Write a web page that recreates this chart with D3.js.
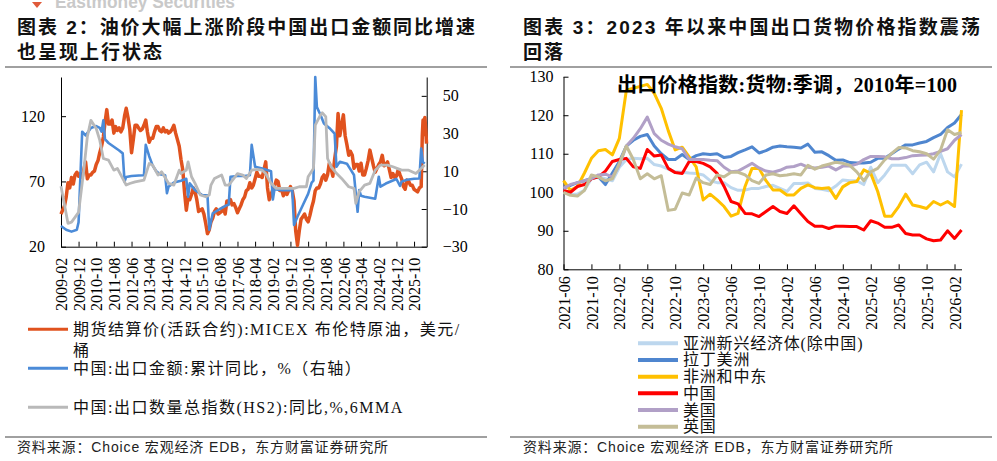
<!DOCTYPE html>
<html><head><meta charset="utf-8">
<script src="https://cdn.jsdelivr.net/npm/d3@7"></script>
<style>body{margin:0;background:#fff}svg{display:block}</style>
</head><body><svg id="c" width="997" height="461"></svg>
<script>
// ---------------- LEFT CHART DATA ----------------
const leftTickLabels = ["2009-02","2009-12","2010-10","2011-08","2012-06","2013-04","2014-02","2014-12","2015-10","2016-08","2017-06","2018-04","2019-02","2019-12","2020-10","2021-08","2022-06","2023-04","2024-02","2024-12","2025-10"];
const leftYTicks = [20,70,120];
const rightYTicks = [-30,-10,10,30,50];
// Brent (monthly, from 2009-02 to 2026-01)
const oilStart = "2009-02";
const oilValues = [
45,48,51,58,69,65,73,68,75,77,74,
76,73,79,85,72,75,75,77,78,83,86,92,
97,104,115,125,114,114,117,107,112,109,111,108,
111,120,126,119,110,92,102,113,113,111,109,110,
113,117,108,100,103,103,108,112,112,109,108,111,
108,109,107,108,110,113,107,102,97,87,79,62,
48,58,56,60,65,62,56,47,48,49,45,38,
30,33,39,42,47,49,45,46,47,50,45,55,
55,56,52,53,50,46,49,52,56,58,63,64,
69,65,67,72,77,74,74,73,79,85,65,56,
60,64,66,71,70,63,64,59,63,60,63,66,
63,55,32,21,32,41,43,45,41,39,44,50,
55,63,65,65,68,73,75,71,75,84,80,74,
87,97,122,105,113,121,105,98,90,93,90,80,
83,83,78,84,75,75,80,86,94,88,82,77,
80,83,85,90,82,83,85,79,73,76,73,74,
79,75,72,66,64,71,70,67,67,64,63,62,
65];
const oilTailDates = ["2026-02-01","2026-02-20","2026-03-05","2026-03-20","2026-04-05","2026-04-20","2026-05-04"];
const oilTailValues = [66,105,117,106,119,110,99];
// China export value, cumulative YoY (%)
const expDates = ["2009-02","2009-05","2009-08","2009-11","2009-12","2010-02","2010-04","2010-07","2010-10","2010-12","2011-01","2011-02","2011-03","2011-05","2011-08","2011-11","2012-01","2012-02","2012-03","2012-06","2012-10","2013-01","2013-02","2013-04","2013-06","2013-08","2013-10","2014-01","2014-02","2014-03","2014-06","2014-10","2015-01","2015-02","2015-03","2015-06","2015-10","2016-01","2016-02","2016-04","2016-08","2016-12","2017-01","2017-02","2017-06","2017-10","2018-01","2018-02","2018-04","2018-08","2019-01","2019-02","2019-03","2019-07","2020-01","2020-02","2020-04","2020-07","2020-10","2020-12","2021-01","2021-02","2021-03","2021-05","2021-07","2021-10","2022-01","2022-02","2022-04","2022-08","2022-10","2022-12","2023-02","2023-03","2023-04","2023-06","2023-12","2024-02","2024-03","2024-06","2024-12","2025-02","2025-03","2025-06","2025-10","2026-01","2026-02","2026-03","2026-04"];
const expValues = [-19,-21,-22,-21,-17,31,29,33,34,33,31,37,27,25,23,21,19.5,4.5,7,7.5,7.8,7.9,24,18,13,10,8.5,7.9,-1.6,1.8,4,5,6,-3.5,3.6,0,-2.6,-2.8,-21,-12.3,-10,-8,-7.7,7.1,7.5,7.5,7.9,24,12.4,11.5,10,-5,0.5,0,0,-18.5,-14,-8,-2,4,5,60,44,40,35.4,33,30,12.4,15,14,11,8,-11.5,0,-3,-3.5,-4.6,7.1,1.8,3.5,5.9,2.3,4.5,5.5,6,6.2,22,15,14];
// China export volume index (HS2) YoY, 6MMA (%)
const volDates = ["2009-02","2009-06","2009-08","2009-12","2010-03","2010-05","2010-07","2010-10","2010-12","2011-02","2011-05","2011-08","2011-10","2011-12","2012-03","2012-05","2012-08","2013-01","2013-04","2013-06","2013-09","2013-11","2014-03","2014-06","2014-09","2014-10","2015-01","2015-02","2015-04","2015-06","2015-09","2015-12","2016-02","2016-03","2016-05","2016-07","2016-09","2016-11","2017-01","2017-04","2017-06","2017-09","2017-11","2018-02","2018-05","2018-08","2018-10","2019-01","2019-04","2019-09","2020-02","2020-05","2020-09","2020-10","2021-01","2021-02","2021-05","2021-06","2021-08","2021-09","2021-11","2022-02","2022-05","2022-09","2022-12","2023-01","2023-03","2023-06","2023-09","2023-12","2024-03","2024-07","2024-10","2025-03","2025-07","2025-11","2026-01","2026-04"];
const volValues = [2,-17.6,-17,-11.8,10.6,28.3,37,32.7,26.5,16.8,15.9,10.6,11.5,8,2.7,3.5,4.4,5.3,14.1,13.2,8,9.7,3.6,2.7,10.6,8.8,10.6,15,7.1,3.6,-2.6,-3.5,-2.6,2.7,6.2,7.1,8,2.7,2.7,6.2,8.8,8,6.2,10.6,11,10.6,8.8,3.6,0.9,0.9,0.9,1.8,1.8,7.1,11.5,34.5,39.8,41,39,16.8,12.4,8.9,6.2,1.8,0.9,-7,-0.8,2.7,3.6,10.6,13.3,13.3,12.4,10.6,10.6,8.8,10.6,13.3];
const leftLegend = ["期货结算价(活跃合约):MICEX 布伦特原油，美元/","中国:出口金额:累计同比，%（右轴）","中国:出口数量总指数(HS2):同比,%,6MMA"];

// ---------------- RIGHT CHART DATA ----------------
const months = ["2021-06","2021-07","2021-08","2021-09","2021-10","2021-11","2021-12","2022-01","2022-02","2022-03","2022-04","2022-05","2022-06","2022-07","2022-08","2022-09","2022-10","2022-11","2022-12","2023-01","2023-02","2023-03","2023-04","2023-05","2023-06","2023-07","2023-08","2023-09","2023-10","2023-11","2023-12","2024-01","2024-02","2024-03","2024-04","2024-05","2024-06","2024-07","2024-08","2024-09","2024-10","2024-11","2024-12","2025-01","2025-02","2025-03","2025-04","2025-05","2025-06","2025-07","2025-08","2025-09","2025-10","2025-11","2025-12","2026-01","2026-02","2026-03"];
const asia = [100,99.5,99.5,100.5,103.5,104,103.5,103,106.5,108.5,108.8,108.7,108.8,107.2,106.8,106,105.3,105.2,105,104.9,104.5,103,102.5,102.5,101.2,100.5,100.6,101,101,101.5,101.8,101,100.2,102.3,102.3,102.4,101,100.8,100.4,101.6,103.2,103,103,102,106.5,102.5,104.5,107,107,107,104.8,107.1,107.8,105.3,110,105.3,104,107.3];
const latam = [101,101.8,102.5,103,103.6,104,102,105,108,112,113.5,114.5,115,112,110,108.5,108.5,109.8,108.5,109.5,110,109.8,110,109,109.3,110.3,111,111.8,110.2,110.8,111.7,112,111.8,111.7,111.5,112.5,110.4,110.5,109.5,108.3,108.4,107.7,107.6,107.6,107.8,108.8,108.8,110,111.2,112.3,112.3,112.8,113.2,114.2,115,116.8,118,120.2];
const afme = [103,100.5,101.5,105,108.8,110.8,111.1,109.7,114,126.5,127,127.5,128,125.7,121.8,116,111,111.7,109.2,106.6,98,99.5,98,96.3,93.8,94.5,101.5,106.2,106.2,103,100.6,100.6,99.3,99.3,101,101.9,101.2,101,101.2,98.4,101.4,102.5,102.8,105.8,104.9,100.2,93.8,93.8,96.3,99.5,96.7,96.3,95.8,97.6,96.7,97.6,96.3,121.3];
const china = [100.5,100,101.5,102,103.5,104,105.5,108,108.5,108.8,106.6,106.2,111.1,109.4,109.7,106.2,105.1,104.9,108,108,107.5,106.6,104.9,101.5,97.6,97,94.5,94.4,93.7,95,96.3,95,94.5,96.5,94.4,92.4,91.2,91.2,90.6,91.2,91.2,91.1,91.1,90.2,92.6,92,90.9,90.9,91.5,89.3,88.9,88.9,87.9,87.4,87.6,90,88,90.2];
const usa = [101,102,102.5,103,103.5,104.5,104.7,104,107,112,114,116.5,119.5,115.2,113.5,112.5,111.8,111.3,108.5,108.5,108.5,108.3,108.2,106.5,105.3,105.5,106.5,107.5,106.3,105.5,105.2,105.7,106.5,106.7,107.3,106.5,106.3,106.5,106.8,105.8,106.8,106.8,107.3,108.5,109.3,109.3,109.2,108.7,108.7,109,109.5,109.6,109.7,110,110.6,111.3,113.5,115];
const uk = [100,99.2,99,100.5,104.5,104,103,103.5,107.5,112,108.5,103.5,104.8,103.5,104.3,95.3,95.6,99.8,99.3,103.7,102.5,102,104.5,104,105.2,105.2,104.5,103,102.3,104.5,104.8,104.3,104.5,104.8,104.5,107,106,106.8,107.3,107.8,107.5,107,105.3,103,105.3,106.2,108.4,110.1,111.6,111.5,110.8,110.5,110,108.6,111,116.2,115,115.5];
const rightSeries = [
  {name:"亚洲新兴经济体(除中国)", values:asia,  color:"#BDD7EE"},
  {name:"拉丁美洲",               values:latam, color:"#4F86CF"},
  {name:"非洲和中东",             values:afme,  color:"#FFC000"},
  {name:"中国",                   values:china, color:"#FF0000"},
  {name:"美国",                   values:usa,   color:"#B1A0C7"},
  {name:"英国",                   values:uk,    color:"#C4BD97"}
];
const rightYTicksR = [80,90,100,110,120,130];

// ---------------- DRAW ----------------
const svg = d3.select("#c");
svg.append("rect").attr("width",997).attr("height",461).attr("fill","#fff");
const SERIF = "'Liberation Serif','Noto Sans CJK SC',serif";
const SANS = "'Liberation Sans','Noto Sans CJK SC',sans-serif";
const pm = d3.timeParse("%Y-%m"), pd = d3.timeParse("%Y-%m-%d");

// watermark (cut off at top edge, as in the reference)
svg.append("path").attr("d","M32,2 L42,2 L37,8 Z").attr("fill","#e05a3a");
svg.append("text").attr("x",55).attr("y",8).attr("font-family",SANS).attr("font-weight","bold")
  .attr("font-size",19).attr("fill","#c9c9c9").attr("textLength",180).attr("lengthAdjust","spacingAndGlyphs").text("Eastmoney Securities");

// titles
function title(x,y,t,len){
  const s = svg.append("text").attr("x",x).attr("y",y).attr("font-family",SANS).attr("font-weight","bold")
    .attr("font-size",19).attr("fill","#111").text(t);
  if(len) s.attr("textLength",len).attr("lengthAdjust","spacing"); else s.attr("letter-spacing",2);
}
title(17,34,"图表 2：油价大幅上涨阶段中国出口金额同比增速",458);
title(17,59,"也呈现上行状态");
title(523,34,"图表 3：2023 年以来中国出口货物价格指数震荡",457);
title(523,59,"回落");

// separators
[[5,487],[510,992]].forEach(([a,b])=>{
  [67,437].forEach(y=>svg.append("line").attr("x1",a).attr("x2",b).attr("y1",y).attr("y2",y)
    .attr("stroke","#808080").attr("stroke-width",1.5));
});
// sources
[[17,371],[523,370]].forEach(([x,l])=>svg.append("text").attr("x",x).attr("y",452).attr("font-family",SANS)
  .attr("font-size",14).attr("fill","#222").attr("textLength",l).attr("lengthAdjust","spacing")
  .text("资料来源：Choice 宏观经济 EDB，东方财富证券研究所"));

// ---------- left chart ----------
const xL = d3.scaleTime().domain([pm("2009-02"), pd("2026-05-07")]).range([61,426.7]);
const yL = d3.scaleLinear().domain([20,150]).range([246.7,77]);
const yR = d3.scaleLinear().domain([-30,60]).range([246.7,77]);
const gL = svg.append("g");
function styleAxis(g){
  g.selectAll("path.domain").attr("stroke","#000").attr("stroke-width",1);
  g.selectAll(".tick line").attr("stroke","#000");
  g.selectAll("text").attr("font-family",SERIF).attr("font-size",16).attr("fill","#000");
}
const axL = gL.append("g").attr("transform","translate(61,0)")
  .call(d3.axisLeft(yL).tickValues(leftYTicks).tickSize(-5).tickSizeOuter(0).tickPadding(16));
styleAxis(axL);
const axR = gL.append("g").attr("transform","translate(426.7,0)")
  .call(d3.axisRight(yR).tickValues(rightYTicks).tickSize(-5).tickSizeOuter(0).tickPadding(16));
styleAxis(axR);
const axB = gL.append("g").attr("transform","translate(0,246.7)")
  .call(d3.axisBottom(xL).tickValues(leftTickLabels.map(pm)).tickFormat(d3.timeFormat("%Y-%m")).tickSize(-5).tickSizeOuter(0));
styleAxis(axB);
axB.selectAll("text").attr("transform","rotate(-90)").attr("text-anchor","end").attr("x",-11).attr("y",0).attr("dy","0.35em");

const oilData = oilValues.map((v,i)=>[d3.timeMonth.offset(pm(oilStart),i),v])
  .concat(oilTailDates.map((d,i)=>[pd(d),oilTailValues[i]]));
const expData = expDates.map((d,i)=>[pm(d),expValues[i]]);
const volData = volDates.map((d,i)=>[pm(d),volValues[i]]);
const lineL = d3.line().x(d=>xL(d[0])).y(d=>yL(d[1]));
const lineR = d3.line().x(d=>xL(d[0])).y(d=>yR(d[1]));
gL.append("path").attr("d",lineL(oilData)).attr("fill","none").attr("stroke","#E0521E").attr("stroke-width",3.5).attr("stroke-linejoin","round");
gL.append("path").attr("d",lineR(expData)).attr("fill","none").attr("stroke","#4B8BD8").attr("stroke-width",2.6).attr("stroke-linejoin","round");
gL.append("path").attr("d",lineR(volData)).attr("fill","none").attr("stroke","#B9B9B9").attr("stroke-width",2.8).attr("stroke-linejoin","round");

// left legend
const legL = [{y:329.3,c:"#E0521E"},{y:368.3,c:"#4B8BD8"},{y:407.3,c:"#B9B9B9"}];
legL.forEach((d,i)=>{
  svg.append("line").attr("x1",28).attr("x2",68).attr("y1",d.y).attr("y2",d.y).attr("stroke",d.c).attr("stroke-width",3);
  svg.append("text").attr("x",73).attr("y",d.y+5.5).attr("font-family",SERIF).attr("font-size",16)
    .attr("letter-spacing",1.5).attr("fill","#111").text(leftLegend[i]);
});
svg.append("text").attr("x",73).attr("y",356).attr("font-family",SERIF).attr("font-size",16).attr("fill","#111").text("桶");

// ---------- right chart ----------
const xP = d3.scalePoint().domain(months).range([563.5,961.5]);
const yP = d3.scaleLinear().domain([80,130]).range([269.3,76.7]);
const gR = svg.append("g");
const axPL = gR.append("g").attr("transform","translate(563.5,0)")
  .call(d3.axisLeft(yP).tickValues(rightYTicksR).tickSize(-5).tickSizeOuter(0).tickPadding(10));
styleAxis(axPL);
const axPB = gR.append("g").attr("transform","translate(0,269.3)")
  .call(d3.axisBottom(xP).tickValues(months.filter((m,i)=>i%4===0)).tickSize(-5).tickSizeOuter(0));
styleAxis(axPB);
axPB.selectAll("text").attr("transform","rotate(-90)").attr("text-anchor","end").attr("x",-7).attr("y",0).attr("dy","0.35em");

const lineP = d3.line().x((d,i)=>xP(months[i])).y(d=>yP(d));
rightSeries.forEach(s=>{
  gR.append("path").attr("d",lineP(s.values)).attr("fill","none").attr("stroke",s.color).attr("stroke-width",3).attr("stroke-linejoin","round");
});
svg.append("text").attr("x",617).attr("y",92).attr("font-family",SERIF).attr("font-weight","bold").attr("font-size",20)
  .attr("fill","#000").attr("textLength",340).attr("lengthAdjust","spacing").text("出口价格指数:货物:季调，2010年=100");

// right legend
rightSeries.forEach((s,i)=>{
  const y = 343.3 + i*16.68;
  svg.append("line").attr("x1",638).attr("x2",678).attr("y1",y).attr("y2",y).attr("stroke",s.color).attr("stroke-width",4);
  svg.append("text").attr("x",683).attr("y",y+5.5).attr("font-family",SERIF).attr("font-size",16)
    .attr("letter-spacing",0.8).attr("fill","#111").text(s.name);
});
</script></body></html>
